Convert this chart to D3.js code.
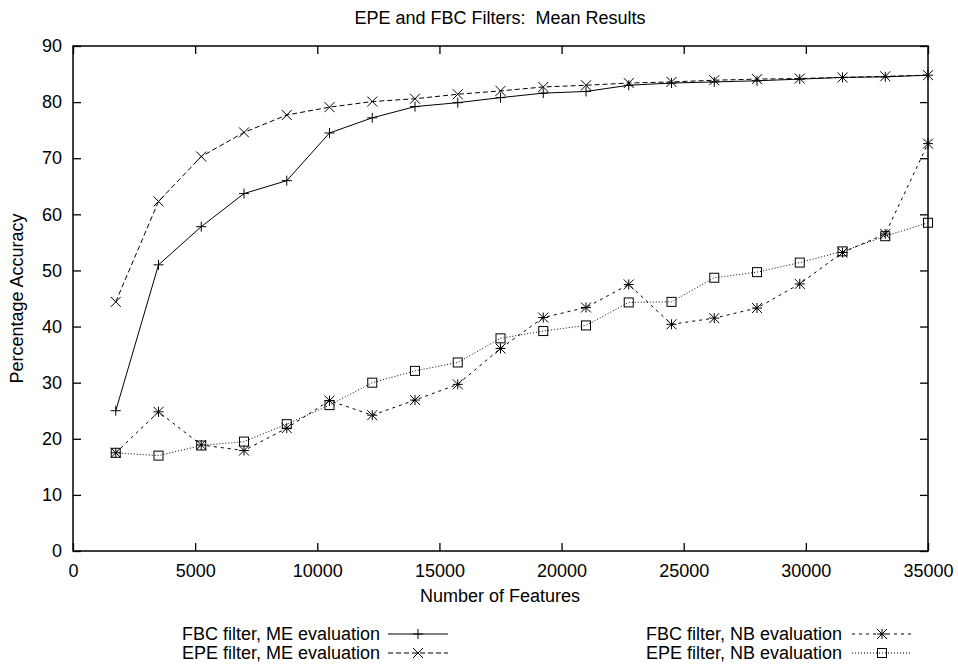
<!DOCTYPE html>
<html>
<head>
<meta charset="utf-8">
<script src="https://cdn.jsdelivr.net/npm/d3@7"></script>
<style>
  body { margin: 0; background: #fff; }
  text { font-family: "Liberation Sans", Arial, sans-serif; font-size: 18px; fill: #000; white-space: pre; }
</style>
</head>
<body>
<script>
// number of features (x values)
var features = [1750, 3500, 5250, 7000, 8750, 10500, 12250, 14000, 15750, 17500,
                19250, 21000, 22750, 24500, 26250, 28000, 29750, 31500, 33250, 35000];

var fbcME = [25.0, 51.0, 57.8, 63.7, 66.0, 74.5, 77.2, 79.2, 79.9, 80.8,
             81.6, 81.9, 83.0, 83.4, 83.6, 83.8, 84.1, 84.4, 84.5, 84.8];
var epeME = [44.4, 62.3, 70.3, 74.6, 77.7, 79.1, 80.1, 80.6, 81.4, 82.0,
             82.7, 83.0, 83.4, 83.6, 83.9, 84.1, 84.2, 84.4, 84.6, 84.8];
var fbcNB = [17.5, 24.8, 18.9, 17.9, 21.9, 26.8, 24.2, 26.9, 29.7, 36.1,
             41.6, 43.4, 47.5, 40.4, 41.5, 43.3, 47.6, 53.2, 56.5, 72.6];
var epeNB = [17.5, 17.0, 18.8, 19.5, 22.6, 26.0, 30.0, 32.1, 33.6, 37.9,
             39.2, 40.2, 44.3, 44.4, 48.7, 49.7, 51.4, 53.4, 56.1, 58.5];

var seriesNames = ["FBC filter, ME evaluation", "EPE filter, ME evaluation",
                   "FBC filter, NB evaluation", "EPE filter, NB evaluation"];
var xTicks = [0, 5000, 10000, 15000, 20000, 25000, 30000, 35000];
var yTicks = [0, 10, 20, 30, 40, 50, 60, 70, 80, 90];

var W = 958, H = 669;
var mLeft = 73, mRight = 928, mTop = 46, mBottom = 551;

var svg = d3.select("body").append("svg").attr("width", W).attr("height", H);

var x = d3.scaleLinear().domain([0, 35000]).range([mLeft, mRight]);
var y = d3.scaleLinear().domain([0, 90]).range([mBottom, mTop]);

// marker drawing
function marker(g, type, cx, cy) {
    var s = 5;
    if (type == "plus" || type == "star") {
        g.append("line").attr("x1", cx - s).attr("x2", cx + s).attr("y1", cy).attr("y2", cy);
        g.append("line").attr("x1", cx).attr("x2", cx).attr("y1", cy - s).attr("y2", cy + s);
    }
    if (type == "cross" || type == "star") {
        g.append("line").attr("x1", cx - s).attr("x2", cx + s).attr("y1", cy - s).attr("y2", cy + s);
        g.append("line").attr("x1", cx - s).attr("x2", cx + s).attr("y1", cy + s).attr("y2", cy - s);
    }
    if (type == "box") {
        g.append("rect").attr("x", cx - 4.5).attr("y", cy - 4.5).attr("width", 9).attr("height", 9)
            .attr("fill", "none");
    }
}

var series = [
    { name: seriesNames[0], values: fbcME, dash: null, mark: "plus", color: "#000" },
    { name: seriesNames[1], values: epeME, dash: "5,3", mark: "cross", color: "#000" },
    { name: seriesNames[2], values: fbcNB, dash: "3,4", mark: "star", color: "#000" },
    { name: seriesNames[3], values: epeNB, dash: "1,2", mark: "box", color: "#000" }
];

// title and axis labels
svg.append("text").attr("x", 500).attr("y", 24).attr("text-anchor", "middle")
    .text("EPE and FBC Filters:  Mean Results");
svg.append("text").attr("x", 500).attr("y", 602).attr("text-anchor", "middle")
    .text("Number of Features");
svg.append("text").attr("transform", "translate(23," + ((mTop + mBottom) / 2) + ") rotate(-90)")
    .attr("text-anchor", "middle").text("Percentage Accuracy");

// axes with inward ticks, mirrored
var axisG = svg.append("g");
axisG.append("g").attr("transform", "translate(0," + mBottom + ")")
    .call(d3.axisBottom(x).tickValues(xTicks).tickSize(-8).tickPadding(13).tickFormat(d3.format("d")));
axisG.append("g").attr("transform", "translate(0," + mTop + ")")
    .call(d3.axisTop(x).tickValues(xTicks).tickSize(-8).tickFormat(""));
axisG.append("g").attr("transform", "translate(" + mLeft + ",0)")
    .call(d3.axisLeft(y).tickValues(yTicks).tickSize(-8).tickPadding(11));
axisG.append("g").attr("transform", "translate(" + mRight + ",0)")
    .call(d3.axisRight(y).tickValues(yTicks).tickSize(-8).tickFormat(""));
axisG.selectAll(".domain").remove();
axisG.selectAll(".tick line").attr("stroke", "#000").attr("stroke-width", 1.3);
axisG.selectAll(".tick text").style("font-size", "18px")
    .style("font-family", "Liberation Sans, Arial, sans-serif");
svg.append("rect").attr("x", mLeft).attr("y", mTop).attr("width", mRight - mLeft).attr("height", mBottom - mTop)
    .attr("fill", "none").attr("stroke", "#000").attr("stroke-width", 1.5);

var line = d3.line().x(function (d) { return x(d[0]); }).y(function (d) { return y(d[1]); });

series.forEach(function (s) {
    var pts = features.map(function (f, i) { return [f, s.values[i]]; });
    svg.append("path").datum(pts).attr("d", line).attr("fill", "none")
        .attr("stroke", s.color).attr("stroke-width", 1)
        .attr("stroke-dasharray", s.dash);
    var mg = svg.append("g").attr("stroke", s.color).attr("stroke-width", 1);
    pts.forEach(function (p) { marker(mg, s.mark, x(p[0]), y(p[1])); });
});

// legend
var legendPos = [
    { tx: 380, sx: 388, ty: 634 },
    { tx: 380, sx: 388, ty: 653 },
    { tx: 842, sx: 852, ty: 634 },
    { tx: 842, sx: 852, ty: 653 }
];
series.forEach(function (s, i) {
    var p = legendPos[i];
    svg.append("text").attr("x", p.tx).attr("y", p.ty + 6).attr("text-anchor", "end").text(s.name);
    svg.append("line").attr("x1", p.sx).attr("x2", p.sx + 60).attr("y1", p.ty).attr("y2", p.ty)
        .attr("stroke", s.color).attr("stroke-width", 1).attr("stroke-dasharray", s.dash);
    var mg = svg.append("g").attr("stroke", s.color).attr("stroke-width", 1);
    marker(mg, s.mark, p.sx + 30, p.ty);
});
</script>
</body>
</html>
